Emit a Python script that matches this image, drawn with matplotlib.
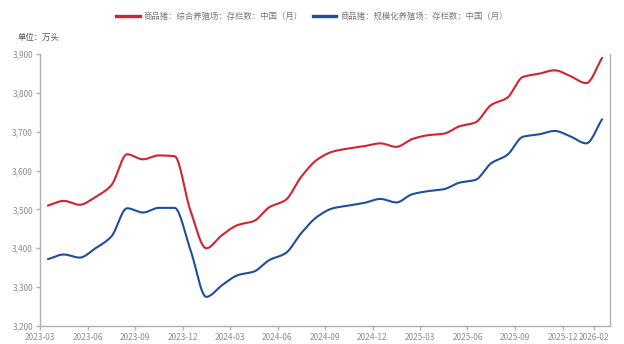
import numpy as np
import matplotlib
matplotlib.use("Agg")
import matplotlib.pyplot as plt
from matplotlib.lines import Line2D

plt.rcParams['font.family'] = ['Noto Sans CJK SC', 'DejaVu Sans']

months = ["2023-03", "2023-04", "2023-05", "2023-06", "2023-07", "2023-08", "2023-09",
          "2023-10", "2023-11", "2023-12", "2024-01", "2024-02", "2024-03", "2024-04",
          "2024-05", "2024-06", "2024-07", "2024-08", "2024-09", "2024-10", "2024-11",
          "2024-12", "2025-01", "2025-02", "2025-03", "2025-04", "2025-05", "2025-06",
          "2025-07", "2025-08", "2025-09", "2025-10", "2025-11", "2025-12", "2026-01",
          "2026-02"]

red_vals = [3510, 3522, 3512, 3532, 3562, 3642, 3629, 3639, 3637, 3497, 3400, 3434,
            3460, 3470, 3506, 3524, 3584, 3628, 3649, 3657, 3663, 3670, 3661, 3681,
            3691, 3695, 3714, 3724, 3769, 3787, 3841, 3849, 3858, 3843, 3825, 3890]
blue_vals = [3372, 3384, 3376, 3400, 3430, 3503, 3492, 3504, 3504, 3396, 3275, 3305,
             3331, 3340, 3370, 3387, 3439, 3481, 3503, 3510, 3517, 3527, 3518, 3539,
             3547, 3552, 3569, 3576, 3619, 3640, 3687, 3693, 3702, 3688, 3670, 3732]

tick_labels = ["2023-03", "2023-06", "2023-09", "2023-12", "2024-03", "2024-06",
               "2024-09", "2024-12", "2025-03", "2025-06", "2025-09", "2025-12",
               "2026-02"]
yticks = [3200, 3300, 3400, 3500, 3600, 3700, 3800, 3900]

red_name = "商品猪：综合养殖场：存栏数：中国（月）"
blue_name = "商品猪：规模化养殖场：存栏数：中国（月）"
RED = "#d2232f"
BLUE = "#1f4e9b"


def pchip(x, y, n=24):
    x = np.asarray(x, float)
    y = np.asarray(y, float)
    h = np.diff(x)
    d = np.diff(y) / h
    m = np.zeros_like(y)
    for i in range(1, len(y) - 1):
        if d[i - 1] * d[i] <= 0:
            m[i] = 0.0
        else:
            w1 = 2 * h[i] + h[i - 1]
            w2 = h[i] + 2 * h[i - 1]
            m[i] = (w1 + w2) / (w1 / d[i - 1] + w2 / d[i])
    m[0] = d[0]
    m[-1] = d[-1]
    xs, ys = [], []
    for i in range(len(x) - 1):
        t = np.linspace(0, 1, n, endpoint=False)
        h00 = 2 * t**3 - 3 * t**2 + 1
        h10 = t**3 - 2 * t**2 + t
        h01 = -2 * t**3 + 3 * t**2
        h11 = t**3 - t**2
        xs.append(x[i] + t * h[i])
        ys.append(h00 * y[i] + h10 * h[i] * m[i] + h01 * y[i + 1] + h11 * h[i] * m[i + 1])
    xs.append([x[-1]])
    ys.append([y[-1]])
    return np.concatenate(xs), np.concatenate(ys)


fig = plt.figure(figsize=(6.24, 3.44), dpi=100)
ax = fig.add_axes([40 / 624, 1 - 326 / 344, 570 / 624, 272 / 344])

xpos = np.arange(len(months)) + 0.5
for vals, c in [(red_vals, RED), (blue_vals, BLUE)]:
    sx, sy = pchip(xpos, vals)
    ax.plot(sx, sy, color=c, lw=1.5, solid_capstyle='round')

ax.set_xlim(0, len(months))
ax.set_ylim(3200, 3900)
ax.set_yticks(yticks)
ax.set_yticklabels([f"{v:,}" for v in yticks])
tick_pos = [months.index(m) for m in tick_labels]
ax.set_xticks(tick_pos)
ax.set_xticklabels(tick_labels)

ax.spines['top'].set_visible(False)
for s in ['left', 'bottom', 'right']:
    ax.spines[s].set_color("#b0b0b0")
    ax.spines[s].set_linewidth(1.0)
ax.tick_params(axis='both', colors="#b0b0b0", labelcolor="#8c8c8c", labelsize=6,
               length=3, width=1.0, direction='out', pad=2)
ax.tick_params(axis='y', right=False)

fig.text(18 / 624, 1 - 37 / 344, "单位：万头", fontsize=6, color="#555555", va='center')

handles = [Line2D([], [], color=RED, lw=2.4), Line2D([], [], color=BLUE, lw=2.4)]
fig.legend(handles, [red_name, blue_name], loc='center', bbox_to_anchor=(0.5, 1 - 16 / 344),
           ncol=2, frameon=False, fontsize=6, labelcolor="#777777", handlelength=2.8,
           handletextpad=0.5, columnspacing=1.2)

fig.savefig("out.png", dpi=100)
